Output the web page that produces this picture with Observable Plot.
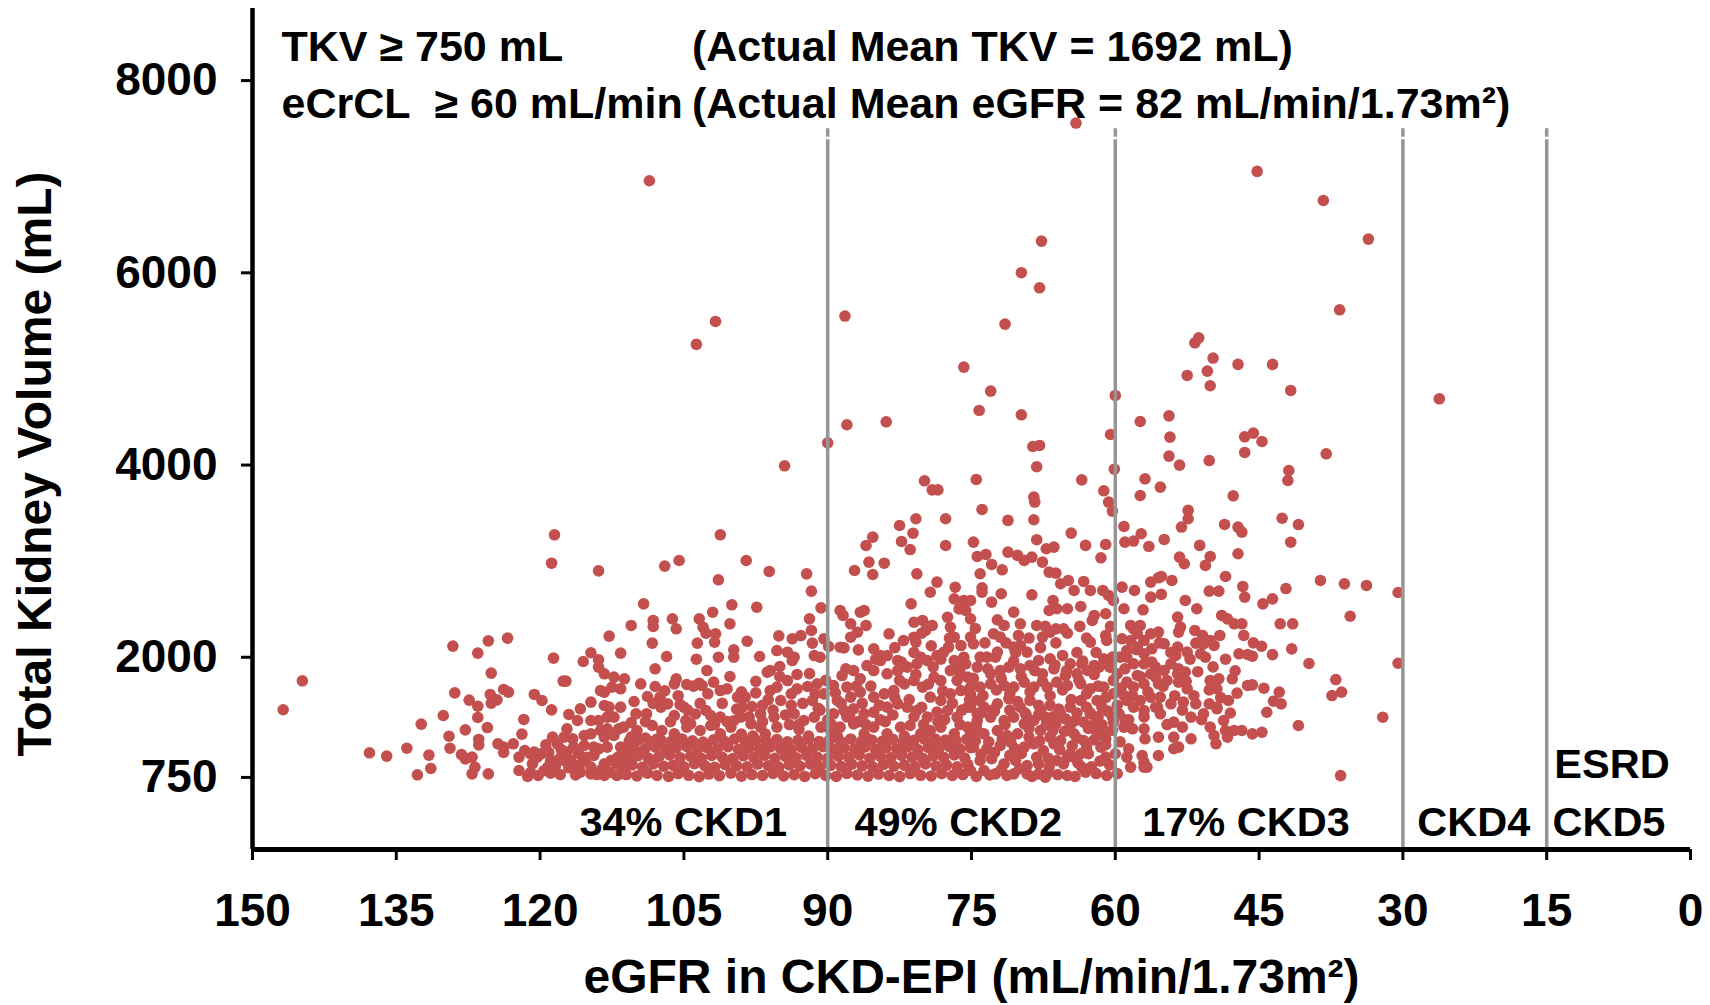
<!DOCTYPE html>
<html>
<head>
<meta charset="utf-8">
<script src="https://cdn.jsdelivr.net/npm/d3@7"></script>
<script src="https://cdn.jsdelivr.net/npm/@observablehq/plot@0.6"></script>
<style>
  html, body { margin: 0; padding: 0; background: #ffffff; }
  #chart svg { display: block; }
</style>
</head>
<body>
<div id="chart"></div>
<script>
// ---- axis / annotation values ----
const xTicks = [150, 135, 120, 105, 90, 75, 60, 45, 30, 15, 0];
const yTicks = [750, 2000, 4000, 6000, 8000];
const stageBounds = [90, 60, 30, 15];
const boundaryTop = [7384, 7411, 7499];
const stageLabels = ["34% CKD1", "49% CKD2", "17% CKD3", "CKD4", "CKD5", "ESRD"];
const stageLabelX = [115.9, 87.2, 57.2, 28.5, 14.4, 14.2];
const stageLabelY = [275, 275, 275, 275, 275, 878];
const noteTexts = ["TKV \u2265 750 mL", "(Actual Mean TKV = 1692 mL)", "eCrCL\u00a0 \u2265 60 mL/min", "(Actual Mean eGFR = 82 mL/min/1.73m\u00b2)"];
const noteX = [146.97, 104.16, 146.97, 104.16];
const noteY = [8348, 8348, 7753, 7753];
const xTitle = "eGFR in CKD-EPI (mL/min/1.73m\u00b2)";
const yTitle = "Total Kidney Volume (mL)";

// ---- data: [eGFR, TKV] ----
const leftCluster = [[146.8,1454],[144.8,1755],[137.8,1006],[136.0,971],[133.9,1054],[132.4,1304],[132.8,777],[131.6,982],[131.4,843],[130.1,1394],[129.5,1179],[129.4,1054],[129.1,2116],[128.9,1630],[127.8,1245],[128.2,988],[127.4,1554],[126.5,2043],[126.5,1491],[126.5,1374],[126.4,1145],[126.4,1089],[127.8,943],[127.1,961],[126.8,857],[127.1,787],[125.4,2171],[125.1,1835],[125.2,1613],[124.5,1557],[125.1,1523],[125.5,1269],[125.4,787],[124.4,1099],[123.8,1065],[123.8,1009],[123.4,2199],[123.8,1665],[123.3,1637],[121.7,1353],[122.2,961],[122.2,822],[121.3,760],[121.6,1030],[120.6,1013],[119.9,995],[120.6,1613],[119.8,1550],[118.6,1991],[118.8,1453],[119.4,1089],[118.7,1169],[118.9,926],[118.9,794],[117.9,780],[118.0,943],[117.2,1013],[116.6,1152],[117.2,1256],[117.6,1752],[117.3,1752],[117.0,1405],[115.8,1464],[116.1,1342],[114.7,1533],[114.7,2047],[115.5,1956],[113.9,1974],[112.8,2220],[111.6,2043],[110.5,2331],[113.9,1897],[113.3,1828],[112.3,1793],[111.2,1776],[113.7,1654],[113.3,1637],[112.5,1689],[111.6,1672],[113.3,1498],[112.8,1481],[111.6,1481],[114.7,1342],[113.9,1342],[113.0,1377],[112.3,1377],[116.8,926],[115.8,805],[114.7,787],[113.3,770],[112.0,770],[111.2,857],[110.9,926],[115.4,926],[114.4,978],[113.9,1047],[113.0,1065],[111.6,1065],[110.5,1169],[115.4,1186],[114.7,1204],[113.7,1238],[113.0,1256],[111.8,1256],[113.3,1169],[112.3,1186],[118.2,1099],[117.5,1169],[115.4,1082],[114.4,1065],[112.6,926],[113.3,891],[112.0,891],[114.7,857],[116.1,857],[117.5,926],[116.5,1065],[119.2,857],[120.3,961],[121.0,995],[121.0,800],[120.2,770],[119.6,820],[118.4,870],[117.0,850],[116.3,775],[115.9,880],[115.1,960],[114.1,780],[113.6,830],[112.7,805],[111.9,960],[111.4,790],[110.8,1010],[117.8,1040],[116.0,1000],[119.1,1010],[120.8,890],[122.8,1100],[121.9,1200]];

const centerUpper = [[107.0,2948],[105.5,3007],[98.5,3007],[101.4,2806],[96.1,2893],[92.2,2868],[91.7,2688],[90.7,2514],[87.2,2903],[85.3,2861],[85.7,2990],[84.1,2979],[80.7,2868],[78.6,2782],[79.3,2677],[76.7,2729],[76.8,2608],[75.8,2591],[76.3,2504],[75.6,2487],[81.3,2556],[88.7,2487],[88.4,2435],[87.6,2348],[86.6,2469],[86.2,2487],[86.0,2331],[86.9,2261],[109.2,2556],[108.2,2383],[108.2,2320],[106.2,2400],[105.8,2296],[103.4,2400],[103.0,2313],[102.0,2469],[100.0,2546],[97.4,2521],[100.2,2348],[91.9,2400],[91.7,2279],[81.0,2365],[80.1,2383],[79.1,2331],[79.8,2279],[77.5,2417],[77.2,2313],[76.8,2209],[77.4,2105],[76.1,2122],[108.3,2147],[103.6,2147],[102.7,2251],[101.7,2244],[101.8,2157],[98.4,2167],[99.8,2077],[99.8,2001],[101.4,2001],[103.7,1980],[106.8,2008],[97.1,2008],[95.1,2223],[93.7,2192],[92.8,2226],[91.6,2147],[90.4,2192],[89.9,2112],[88.3,2098],[87.6,2209],[86.8,2077],[88.7,2105],[83.6,2244],[82.1,2174],[81.0,2209],[80.8,2157],[85.2,2088],[84.5,2018],[83.8,2018],[82.7,1966],[80.3,2001],[78.6,2018],[77.9,2053],[76.8,1966],[75.8,2001],[95.3,2070],[94.2,2053],[93.5,2001],[91.4,2018],[90.8,2001],[93.7,1966]];

const centerMiddle = [[109.5,1723],[108.0,1696],[106.0,1723],[105.8,1776],[104.7,1717],[103.4,1730],[103.1,1706],[101.9,1741],[101.2,1654],[100.5,1671],[108.0,1880],[108.8,1592],[107.5,1585],[106.7,1515],[105.4,1508],[105.0,1481],[110.0,1411],[108.9,1411],[107.4,1481],[106.0,1394],[104.8,1342],[104.3,1307],[102.7,1446],[102.2,1394],[101.2,1377],[99.4,1585],[98.6,1585],[97.5,1630],[98.9,1481],[97.9,1488],[97.0,1411],[96.0,1654],[95.3,1689],[94.9,1550],[94.2,1758],[93.2,1821],[93.2,1671],[92.1,1696],[91.1,1723],[91.6,1550],[90.4,1619],[96.0,1862],[95.0,1904],[96.3,1845],[102.6,1862],[89.4,1706],[88.5,1810],[88.0,1689],[87.3,1862],[86.6,1776],[85.9,1914],[85.2,1862],[84.5,1966],[83.8,1828],[82.7,1862],[81.7,1897],[80.7,1931],[79.6,1966],[78.9,1793],[78.2,1758],[77.2,1862],[76.5,1897],[75.4,1793],[89.0,1550],[87.6,1585],[86.6,1637],[85.2,1585],[84.1,1619],[83.1,1654],[82.0,1723],[81.0,1758],[80.1,1689],[79.3,1585],[78.2,1550],[77.2,1619],[76.1,1654],[75.1,1619],[74.2,1550],[89.4,1411],[88.3,1446],[87.3,1463],[86.2,1411],[85.2,1429],[83.8,1481],[82.7,1515],[81.7,1481],[80.7,1446],[79.6,1377],[78.6,1429],[77.5,1446],[76.5,1377],[75.4,1481],[74.4,1411],[111.3,1273],[109.9,1238],[108.3,1290],[107.3,1238],[106.0,1203],[104.7,1273],[103.3,1238],[102.2,1290],[101.2,1203],[100.1,1273],[99.1,1377],[98.0,1307],[97.0,1273],[95.6,1377],[95.3,1273],[93.5,1411],[92.5,1342],[91.4,1377],[90.7,1273],[89.7,1238],[88.7,1273],[87.3,1307],[86.2,1203],[85.2,1273],[83.8,1203],[82.4,1273],[81.4,1290],[80.3,1203],[79.3,1238],[78.2,1273],[76.8,1203],[75.4,1273],[74.4,1238],[96.5,1200],[94.0,1300],[93.0,1250],[92.0,1180],[90.0,1350],[89.0,1180],[88.0,1380],[86.8,1330],[85.8,1150],[84.5,1350],[83.2,1400],[82.0,1180],[81.0,1380],[80.0,1300],[78.8,1150],[77.8,1350],[76.2,1300],[75.0,1160],[91.0,1470],[93.8,1500],[96.8,1500],[99.5,1460],[100.5,1330],[103.8,1410],[105.5,1150],[107.8,1150],[109.0,1160],[110.5,1320],[97.8,1180],[99.0,1200]];

const centerBase = [[111.0,780],[109.9,765],[108.8,795],[107.8,770],[106.6,760],[105.6,790],[104.5,772],[103.4,758],[102.4,785],[101.3,768],[100.1,795],[99.0,762],[97.9,780],[96.8,770],[95.7,792],[94.6,765],[93.5,778],[92.4,760],[91.3,788],[90.2,770],[89.1,760],[88.0,792],[86.9,775],[85.8,762],[84.7,785],[83.6,770],[82.5,758],[81.4,790],[80.3,772],[79.2,765],[78.1,788],[77.0,770],[75.9,780],
[111.5,870],[110.4,880],[109.3,858],[108.2,890],[107.1,866],[106.1,875],[105.0,860],[103.9,892],[102.8,870],[101.8,856],[100.7,884],[99.5,870],[98.4,860],[97.3,889],[96.2,872],[95.1,858],[94.0,880],[92.9,866],[91.8,890],[90.8,860],[89.7,876],[88.6,864],[87.5,888],[86.4,870],[85.3,858],[84.2,884],[83.1,866],[82.0,875],[80.9,860],[79.8,890],[78.7,868],[77.6,878],[76.5,860],[75.4,886],
[110.9,962],[109.8,975],[108.7,950],[107.6,968],[106.5,985],[105.4,955],[104.3,972],[103.2,948],[102.1,978],[101.0,960],[99.9,945],[98.8,975],[97.7,958],[96.6,982],[95.5,950],[94.4,968],[93.3,955],[92.2,980],[91.1,962],[90.0,948],[88.9,972],[87.8,958],[86.7,985],[85.6,950],[84.5,970],[83.4,955],[82.3,980],[81.2,960],[80.1,948],[79.0,975],[77.9,958],[76.8,985],[75.7,952],
[111.3,1050],[110.2,1062],[109.1,1040],[108.0,1068],[106.9,1045],[105.8,1058],[104.7,1072],[103.6,1042],[102.6,1060],[101.5,1048],[100.4,1070],[99.3,1040],[98.2,1058],[97.1,1045],[96.0,1068],[94.9,1050],[93.8,1040],[92.7,1062],[91.6,1048],[90.5,1070],[89.4,1042],[88.3,1060],[87.2,1050],[86.1,1068],[85.0,1040],[83.9,1058],[82.8,1048],[81.7,1066],[80.6,1040],[79.5,1060],[78.4,1052],[77.3,1070],[76.2,1044],[75.1,1060],
[110.7,1130],[109.6,1145],[108.5,1120],[107.4,1138],[106.3,1125],[105.2,1150],[104.1,1130],[103.0,1118],[101.9,1142],[100.8,1128],[99.7,1150],[98.6,1122],[97.5,1138],[96.4,1126],[95.3,1145],[94.2,1120],[93.1,1135],[92.0,1148],[90.9,1124],[89.8,1140],[88.7,1128],[87.6,1150],[86.5,1122],[85.4,1138],[84.3,1126],[83.2,1146],[82.1,1120],[81.0,1135],[79.9,1148],[78.8,1125],[77.7,1140],[76.6,1130],[75.5,1146]];

const centerFill = [[109.0,1330],[108.2,1520],[107.0,1650],[106.4,1330],[105.6,1600],[104.6,1450],[104.0,1700],[103.3,1520],[102.5,1620],[101.8,1300],[101.0,1520],[100.2,1800],[99.8,1340],[99.0,1640],[98.2,1380],[97.5,1750],[96.8,1330],[96.2,1560],[95.7,1450],[95.0,1800],[94.4,1400],[93.8,1620],[93.0,1300],[92.6,1520],[91.9,1830],[91.3,1620],[90.8,1450],[90.2,1760],[89.6,1300],[89.2,1630],[88.6,1520],[88.1,1880],[87.7,1380],[87.0,1700],[86.4,1520],[86.0,1300],[85.5,1700],[85.0,1980],[84.6,1500],[110.2,1540],
[84.0,1330],[83.0,1580],[82.5,1760],[81.5,1560],[80.8,1820],[80.2,1480],[79.5,1720],[79.0,1900],[78.5,1330],[78.0,1650],[77.0,1520],[76.5,1760],[76.0,1450],[75.6,1930],[75.2,1560],[74.8,1780],[74.5,1300],[73.8,1600],[73.3,1880],[72.8,1450],[72.4,1660],[71.9,1780],[71.5,1300],[71.0,1620],[70.6,1960],[70.2,1540],[69.8,1800],[69.3,1400],[68.9,1640],[68.4,1860],[68.0,1500],[67.6,1750],[67.2,1300],[66.8,1600],[66.3,1920],[65.9,1460],[65.5,1660],[65.1,1860],[64.6,1560],[64.2,1340],[63.8,1760],[63.4,1960],[63.0,1620],[62.6,1420],[62.2,1820],[61.8,1700],[61.4,1300],[61.0,1580],[60.6,1900],[60.2,1760],[59.8,1500],[59.4,1680],[59.0,1880],[58.6,1350],[58.2,1600],[57.8,2080],[57.4,1800],[57.0,1380],[56.6,1640],[56.2,1950],[55.8,1480],[55.4,2150],[55.0,1700],[54.6,1300],[54.2,2050],[53.8,1600],[53.4,1880],[53.0,1450],[52.6,1750],[52.2,1980],[51.8,1600],[51.4,1850],[51.0,1350],[50.6,2000],[50.2,1660],[49.8,1900],[49.0,1580],[48.5,1980],[48.0,1420],[47.5,1860],
[83.0,2100],[82.3,1950],[81.0,2050],[80.2,2250],[79.2,2120],[78.2,1980],[77.3,2200],[76.2,1840],[74.6,2300],[73.6,2150],[72.5,2000],[71.4,2150],[70.4,2050],[69.0,2200],[67.8,2100],[66.2,2150],[65.0,2250],[64.0,2050],[63.0,2200],[62.0,2050]];

const rightUpper = [[73.9,3538],[68.4,3615],[71.2,3424],[68.5,3431],[60.7,3615],[60.3,3521],[52.4,3528],[52.4,3441],[53.1,3355],[48.6,3382],[47.2,3355],[46.8,3302],[47.2,3077],[64.6,3292],[59.1,3361],[59.0,3198],[58.1,3209],[57.3,3285],[56.5,3153],[54.9,3226],[51.2,3164],[50.1,3049],[50.6,2956],[53.3,3042],[52.8,2973],[74.8,3198],[68.2,3223],[67.2,3129],[66.4,3146],[63.1,3164],[61.0,3174],[61.5,3035],[74.4,3049],[73.5,3070],[71.2,3094],[70.2,3060],[69.5,3008],[72.9,2966],[71.8,2910],[74.1,2869],[68.7,3042],[67.6,2990],[66.9,2886],[66.2,2876],[64.9,2799],[65.7,2765],[63.3,2789],[62.6,2695],[61.3,2695],[64.3,2695],[55.5,2827],[55.2,2841],[56.3,2782],[54.1,2799],[48.5,2841],[46.7,2737],[59.3,2730],[58.0,2695],[56.3,2626],[55.2,2654],[50.2,2688],[49.2,2688],[46.5,2626],[75.1,2591],[73.9,2723],[73.9,2678],[72.9,2574],[71.9,2661],[68.7,2650],[52.7,2591]];

const rightMiddle = [[66.5,2591],[66.9,2487],[66.1,2505],[65.0,2505],[63.6,2529],[60.7,2643],[60.2,2591],[59.1,2505],[57.1,2494],[51.5,2505],[53.5,2418],[53.2,2314],[53.4,2262],[51.7,2279],[50.9,2227],[50.1,2175],[49.1,2227],[48.9,2435],[48.3,2400],[47.6,2348],[46.8,2348],[46.6,2227],[51.6,2147],[50.8,2140],[49.7,2123],[52.5,2054],[51.1,2036],[47.1,2036],[46.2,2029],[70.6,2470],[72.3,2390],[71.6,2331],[69.9,2348],[68.2,2331],[67.3,2321],[66.2,2296],[65.4,2296],[63.7,2321],[62.2,2435],[61.0,2453],[60.5,2321],[62.4,2383],[75.1,2400],[75.1,2210],[74.8,2140],[72.7,2244],[72.0,2210],[70.1,2227],[67.6,2210],[66.8,2262],[62.6,2158],[61.0,2227],[60.9,2175],[59.3,2192],[58.4,2331],[58.1,2296],[57.4,2331],[57.7,2244],[57.0,2175],[56.3,2244],[55.5,2262],[54.9,2140],[53.5,2106],[53.7,2019],[56.2,2088],[57.0,2036],[58.4,2175],[57.7,2106],[58.8,2071],[74.1,2002],[73.4,2002],[72.3,2054],[70.6,2106],[69.9,2123],[69.2,2054],[68.0,1967],[66.8,1984],[65.5,2019],[64.7,1932],[63.5,1932],[62.2,1915],[61.2,1984],[60.3,2002],[59.5,2002],[58.8,2002],[58.1,1932],[57.0,1932],[55.8,1897],[54.9,1863],[54.2,1932],[53.5,1828],[52.7,1845],[55.8,1793],[74.4,1897],[73.0,1828],[72.0,1863],[71.1,1897],[69.9,1880],[68.9,1915],[67.6,1828],[66.4,1880],[65.2,1811],[64.0,1828],[62.9,1863],[61.7,1897],[60.5,1897],[59.8,1828],[58.8,1741],[57.7,1811],[57.0,1724],[56.3,1828],[55.5,1724],[54.6,1759],[53.4,1741],[52.5,1672],[50.1,1759],[49.2,1776],[47.8,1776],[49.4,1672],[47.3,1627],[46.2,1707],[75.1,1689],[74.1,1689],[73.0,1724],[71.6,1707],[70.6,1689],[69.5,1741],[68.5,1689],[67.1,1689],[66.1,1741],[65.0,1707],[63.6,1724],[62.6,1672],[61.2,1689],[60.2,1620],[59.1,1603],[58.1,1689],[57.4,1551],[56.3,1585],[55.3,1585],[54.2,1516],[52.9,1533],[51.6,1516],[50.2,1516],[49.4,1481],[48.2,1551]];

const rightBase = [[75.1,1481],[73.7,1481],[72.3,1516],[71.1,1568],[69.9,1481],[68.9,1551],[67.8,1446],[66.8,1499],[65.7,1412],[64.7,1481],[63.6,1551],[62.6,1412],[61.4,1481],[60.3,1377],[59.6,1412],[58.8,1551],[58.1,1481],[57.0,1446],[55.6,1481],[55.3,1412],[53.9,1325],[53.0,1273],[52.1,1377],[50.8,1412],[49.4,1464],[50.1,1273],[48.7,1342],[48.5,1238],[47.6,1238],[46.8,1238],[49.7,1186],[49.5,1100],[48.3,1169],[74.4,1342],[73.0,1377],[71.6,1342],[70.6,1377],[69.5,1308],[68.5,1342],[67.3,1377],[66.2,1308],[64.7,1290],[63.3,1325],[62.2,1308],[61.2,1238],[60.2,1325],[59.1,1273],[58.2,1256],[57.0,1256],[56.9,1152],[55.5,1169],[53.9,1169],[52.1,1152],[53.9,1048],[53.4,1065],[75.1,1204],[73.7,1204],[72.3,1238],[71.3,1186],[70.2,1204],[69.0,1169],[67.8,1238],[66.8,1169],[65.7,1134],[64.3,1204],[63.3,1134],[61.9,1204],[61.0,1152],[60.0,996],[74.8,1065],[73.4,1048],[72.0,1082],[70.9,1117],[69.5,1065],[68.5,1100],[67.5,1030],[66.4,1100],[65.0,961],[64.7,996],[63.6,996],[62.8,996],[61.5,1065],[61.0,961],[58.8,961],[58.6,1048],[57.2,978],[57.0,909],[56.7,857],[55.5,978],[74.1,926],[72.9,944],[71.6,891],[70.4,926],[69.2,874],[68.0,891],[66.9,857],[66.1,926],[65.4,891],[64.3,961],[63.5,857],[63.1,805],[75.1,822],[73.7,822],[72.5,787],[71.3,770],[70.6,787],[69.2,787],[68.0,787],[67.3,753],[65.0,770],[60.9,770],[58.4,857],[57.0,857],[74.5,760],[73.1,775],[71.9,830],[70.0,840],[68.7,760],[67.0,800],[66.0,780],[64.2,760],[63.9,900],[62.5,860],[62.0,790],[61.6,920],[60.6,880],[59.8,790],[74.0,990],[72.6,1010],[71.0,980],[69.8,1000],[68.2,960],[67.0,950],[65.8,1040],[64.5,1080],[63.0,1060],[62.2,1140],[61.0,1090],[60.3,1240],[59.5,1120],[59.0,1350],[74.6,1130],[73.2,1120],[71.8,1150],[70.5,1050],[69.0,1260],[67.9,1130],[66.5,1240],[65.3,1230],[64.0,1160],[62.8,1260],[61.8,1380],[60.8,1440],[74.0,1420],[72.6,1440],[71.0,1450],[69.4,1420],[68.0,1400],[66.5,1380],[65.2,1360],[64.0,1420],[63.0,1480],[61.9,1550]];

const farRight = [[41.7,4776],[26.2,4689],[45.6,4332],[44.7,4245],[38.0,4117],[41.9,3943],[42.0,3839],[42.6,3447],[40.9,3381],[41.7,3197],[38.6,2799],[36.1,2764],[33.8,2747],[30.5,2674],[42.2,2715],[43.6,2608],[44.6,2556],[42.8,2348],[41.5,2348],[35.5,2427],[45.6,2150],[44.75,2115],[45.7,2011],[43.6,2028],[41.6,2087],[39.8,1935],[30.5,1938],[37.0,1768],[45.7,1713],[44.5,1678],[42.9,1637],[43.5,1543],[42.7,1515],[44.2,1428],[37.4,1602],[36.4,1637],[32.1,1376],[40.9,1290],[45.7,1203],[44.7,1220],[36.5,769]];

const highOutliers = [[64.1,7558],[45.2,7055],[38.3,6753],[33.6,6351],[67.7,6330],[69.8,6001],[67.9,5844],[71.5,5466],[36.6,5615],[51.3,5324],[51.7,5272],[49.8,5113],[47.2,5047],[43.6,5047],[52.5,4932],[50.4,4977],[50.1,4825],[60.0,4724],[69.8,4523],[57.4,4453],[54.4,4512],[54.3,4290],[54.4,4093],[53.3,3999],[60.5,4318],[46.5,4294],[46.5,4131],[50.2,4047],[68.6,4193],[67.9,4204],[68.2,3982],[60.1,3957],[63.5,3846],[56.9,3857],[61.2,3732],[57.4,3683],[55.3,3770],[47.7,3680],[68.5,3666],[108.6,6958],[101.7,5494],[103.7,5255],[94.5,3992],[90.0,4231],[88.2,5550],[88.0,4419],[83.9,4450],[75.8,5019],[73.0,4769],[74.2,4568],[79.9,3836],[79.1,3742],[78.5,3742],[74.5,3850],[77.7,3441],[82.5,3371],[80.8,3441],[81.1,3291],[82.3,3205],[81.4,3121],[85.3,3250],[86.0,3163],[77.7,3163],[118.5,3274],[118.8,2979],[113.9,2899],[101.2,3274]];

const points = [leftCluster, centerUpper, centerMiddle, centerBase, centerFill, rightUpper, rightMiddle, rightBase, farRight, highOutliers]
  .flat()
  .map(([egfr, tkv]) => ({egfr, tkv}));

const FONT = "'Liberation Sans', Arial, Helvetica, sans-serif";
const DOT = "#C3504E";
const GRAY = "#969696";

const chart = Plot.plot({
  width: 1710,
  height: 1005,
  marginLeft: 252,
  marginRight: 20,
  marginTop: 8,
  marginBottom: 156,
  x: {domain: [150, 0]},
  y: {domain: [0, 8750]},
  style: {fontFamily: FONT, fontWeight: "bold", color: "#000", background: "#fff", overflow: "visible"},
  marks: [
    Plot.dot(points, {x: "egfr", y: "tkv", r: 5.8, fill: DOT, stroke: "none"}),
    Plot.ruleX(stageBounds, {y1: 0, y2: boundaryTop[0], stroke: GRAY, strokeWidth: 3.5}),
    Plot.ruleX(stageBounds, {y1: boundaryTop[1], y2: boundaryTop[2], stroke: GRAY, strokeWidth: 3.5}),
    Plot.ruleX([150], {stroke: "#000", strokeWidth: 4.5}),
    Plot.ruleY([0], {stroke: "#000", strokeWidth: 5}),
    Plot.axisX(xTicks, {tickSize: 11, tickPadding: 33, fontSize: 46, fontWeight: "bold", strokeWidth: 3, label: null, tickFormat: d => String(d)}),
    Plot.axisY(yTicks, {tickSize: 11, tickPadding: 24, fontSize: 46, fontWeight: "bold", strokeWidth: 3, label: null, tickFormat: d => String(d)}),
    Plot.text(noteTexts, {x: (d, i) => noteX[i], y: (d, i) => noteY[i], text: d => d, textAnchor: "start", lineAnchor: "middle", fontSize: 43, fontWeight: "bold", fill: "#000"}),
    Plot.text(stageLabels, {x: (d, i) => stageLabelX[i], y: (d, i) => stageLabelY[i], text: d => d, textAnchor: "start", lineAnchor: "middle", fontSize: 41.5, fontWeight: "bold", fill: "#000"}),
    Plot.text([xTitle], {frameAnchor: "bottom", textAnchor: "middle", lineAnchor: "middle", dy: 128.6, fontSize: 48, fontWeight: "bold", fill: "#000"}),
    Plot.text([yTitle], {frameAnchor: "left", textAnchor: "middle", lineAnchor: "middle", rotate: -90, dx: -217, dy: 35, fontSize: 48, fontWeight: "bold", fill: "#000"})
  ]
});

document.getElementById("chart").appendChild(chart);
</script>
</body>
</html>
